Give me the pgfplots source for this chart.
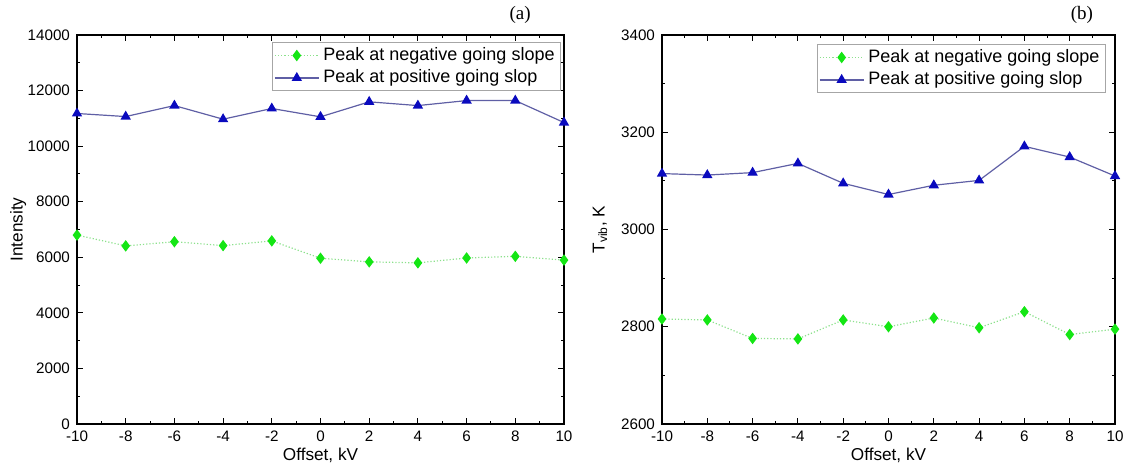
\documentclass[border=0pt]{standalone}
\usepackage{fontspec}
\setmainfont{Liberation Sans}
\newfontfamily\serifx{Liberation Serif}
\usepackage{pgfplots}
\pgfplotsset{compat=1.18}
\definecolor{negmk}{RGB}{20,230,20}
\definecolor{negln}{RGB}{140,225,140}
\definecolor{posmk}{RGB}{10,10,190}
\definecolor{posln}{RGB}{95,95,165}

\pgfplotsset{
  panel/.style={
    scale only axis, height=194.5pt,
    xmin=-10, xmax=10, xtick={-10,-8,...,10}, minor x tick num=1, minor y tick num=1,
    tick align=inside, axis line style={line width=0.6pt}, tick style={black, line width=0.5pt},
    major tick length=3pt, minor tick length=1.6pt,
    ticklabel style={font=\fontsize{7.6}{8}\selectfont},
    /pgf/number format/assume math mode=true,
    /pgf/number format/1000 sep={},
    scaled y ticks=false,
    label style={font=\fontsize{8.6}{9}\selectfont},
    xlabel={Offset, kV},
    xlabel style={at={(axis description cs:0.5,0)}, anchor=center, yshift=-15.5pt},
    legend style={font=\fontsize{9}{10.5}\selectfont, draw=gray!70, line width=0.5pt,
      inner xsep=1pt, inner ysep=0.5pt, row sep=-0.8pt},
    legend cell align=left,
    legend image code/.code={
      \draw[#1, mark repeat=2, mark phase=2] plot coordinates {(0pt,0pt) (11pt,0pt) (22pt,0pt)};},
    clip=false,
  },
  negser/.style={negln, densely dotted, line width=0.6pt, mark=diamond*,
    mark size=2.4pt, mark options={solid, fill=negmk, draw=negmk}},
  posser/.style={posln, line width=0.6pt, mark=triangle*,
    mark size=2.4pt, mark options={solid, fill=posmk, draw=posmk}},
}

\begin{document}
\begin{tikzpicture}
\begin{axis}[panel, name=left, width=243.5pt,
  ymin=0, ymax=14000, ytick={0,2000,...,14000},
  ylabel={Intensity},
  ylabel style={at={(axis description cs:-0.121,0.5)}, anchor=center, rotate=0},
  legend style={at={(0.994,0.982)}, anchor=north east},
]
\addplot[negser] coordinates {(-10,6800) (-8,6410) (-6,6560) (-4,6420) (-2,6590) (0,5965) (2,5835) (4,5800) (6,5975) (8,6035) (10,5900)};
\addplot[posser] coordinates {(-10,11175) (-8,11065) (-6,11460) (-4,10970) (-2,11355) (0,11055) (2,11595) (4,11460) (6,11640) (8,11640) (10,10850)};
\legend{Peak at negative going slope, Peak at positive going slop}
\node[font=\serifx\fontsize{9.5}{10}\selectfont] at (rel axis cs:0.91,1.051) {(a)};
\end{axis}

\begin{axis}[panel, at={(292.5pt,0pt)}, anchor=south west, width=226.5pt,
  ymin=2600, ymax=3400, ytick={2600,2800,...,3400},
  ylabel={T\textsubscript{vib}, K},
  ylabel style={at={(axis description cs:-0.137,0.5)}, anchor=center, rotate=0},
  legend style={at={(0.98,0.977)}, anchor=north east},
]
\addplot[negser] coordinates {(-10,2816) (-8,2814) (-6,2776) (-4,2775) (-2,2814) (0,2800) (2,2818) (4,2798) (6,2831) (8,2784) (10,2795)};
\addplot[posser] coordinates {(-10,3115) (-8,3112) (-6,3117) (-4,3136) (-2,3095) (0,3072) (2,3091) (4,3101) (6,3171) (8,3149) (10,3110)};
\legend{Peak at negative going slope, Peak at positive going slop}
\node[font=\serifx\fontsize{9.5}{10}\selectfont] at (rel axis cs:0.927,1.051) {(b)};
\end{axis}
\pgfresetboundingbox
\path (-38.5pt,-22pt) rectangle (524.5pt,212pt);
\end{tikzpicture}
\end{document}
